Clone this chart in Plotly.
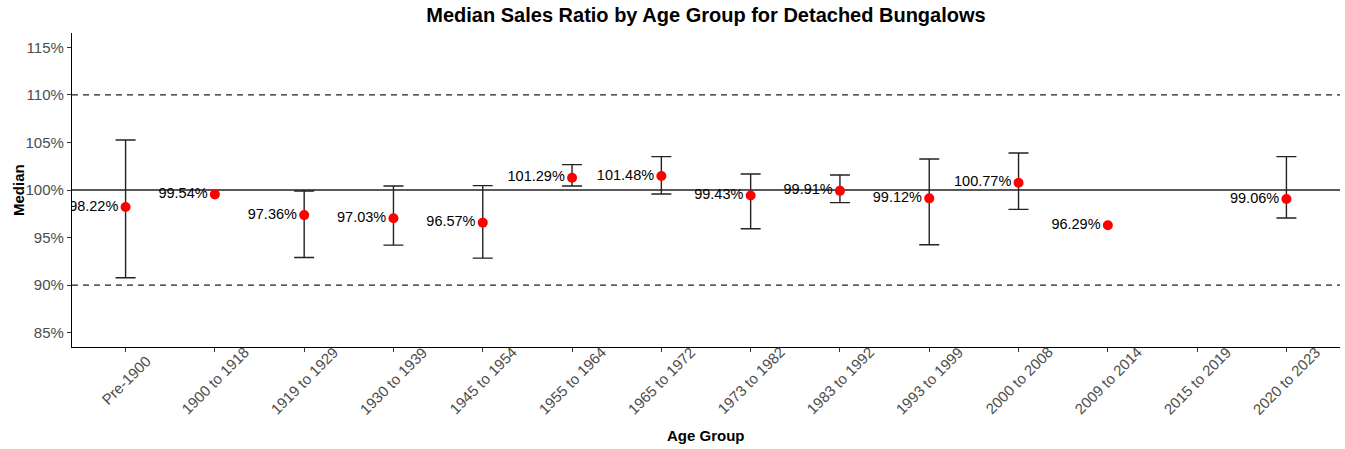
import plotly.graph_objects as go

# Age bands (x categories)
age_groups = [
    "Pre-1900", "1900 to 1918", "1919 to 1929", "1930 to 1939", "1945 to 1954",
    "1955 to 1964", "1965 to 1972", "1973 to 1982", "1983 to 1992", "1993 to 1999",
    "2000 to 2008", "2009 to 2014", "2015 to 2019", "2020 to 2023",
]
# Median sales ratio (%) per age band; None = no sales in band
median_ratio = [98.22, 99.54, 97.36, 97.03, 96.57, 101.29, 101.48, 99.43,
                99.91, 99.12, 100.77, 96.29, None, 99.06]
# Confidence interval bounds (%); None = not available
ci_upper = [105.26, None, 99.90, 100.42, 100.46, 102.67, 103.51, 101.68,
            101.58, 103.26, 103.89, None, None, 103.51]
ci_lower = [90.77, None, 92.91, 94.21, 92.84, 100.42, 99.58, 95.93,
            98.67, 94.25, 97.96, None, None, 97.05]
# Y axis ticks (%)
y_ticks = [85, 90, 95, 100, 105, 110, 115]
# Reference lines (%)
target_line = 100
tolerance_lines = [90, 110]

FONT = "Liberation Sans, Arial, sans-serif"
W, H = 1345, 449
PLOT_LEFT, PLOT_RIGHT = 72, 1340
PLOT_TOP, PLOT_BOTTOM = 33, 347

def paper_y(px):
    """Convert a pixel row to a paper coordinate of the plotting area."""
    return (PLOT_BOTTOM - px) / (PLOT_BOTTOM - PLOT_TOP)

def paper_x(px):
    """Convert a pixel column to a paper coordinate of the plotting area."""
    return (px - PLOT_LEFT) / (PLOT_RIGHT - PLOT_LEFT)

# only bands with both a median and an interval get an error bar
eb_x, eb_y, eb_plus, eb_minus = [], [], [], []
for g, m, u, l in zip(age_groups, median_ratio, ci_upper, ci_lower):
    if m is not None and u is not None and l is not None:
        eb_x.append(g)
        eb_y.append(m)
        eb_plus.append(u - m)
        eb_minus.append(m - l)

pt_x = [g for g, m in zip(age_groups, median_ratio) if m is not None]
pt_y = [m for m in median_ratio if m is not None]
pt_text = [f"{m:.2f}%" for m in pt_y]

fig = go.Figure()

shapes = []
for y in tolerance_lines:
    shapes.append(dict(type="line", xref="paper", x0=0, x1=1, yref="y", y0=y, y1=y,
                       line=dict(color="#222222", width=1.2, dash="6px,5px"), layer="below"))
shapes.append(dict(type="line", xref="paper", x0=0, x1=1, yref="y", y0=target_line,
                   y1=target_line, line=dict(color="#222222", width=1.3), layer="below"))

fig.add_trace(go.Scatter(
    x=eb_x, y=eb_y,
    mode="markers",
    marker=dict(size=1, color="rgba(0,0,0,0)"),
    error_y=dict(type="data", symmetric=False, array=eb_plus, arrayminus=eb_minus,
                 color="#222222", thickness=1.4, width=10),
    hoverinfo="skip",
    showlegend=False,
))

fig.add_trace(go.Scatter(
    x=pt_x, y=pt_y,
    mode="markers+text",
    marker=dict(size=10, color="#ff0000"),
    text=pt_text,
    textposition="middle left",
    textfont=dict(family=FONT, size=14.5, color="#000000"),
    showlegend=False,
))

# rotated category labels, centred under each tick
annotations = []
for g in age_groups:
    annotations.append(dict(
        x=g, xref="x", y=paper_y(380), yref="paper",
        text=g, textangle=-45, showarrow=False,
        xanchor="center", yanchor="middle",
        font=dict(family=FONT, size=15, color="#4d4d4d"),
    ))
annotations.append(dict(
    x=0.5, xref="paper", y=paper_y(435), yref="paper",
    text="<b>Age Group</b>", showarrow=False, xanchor="center", yanchor="middle",
    font=dict(family=FONT, size=15, color="#000000"),
))
annotations.append(dict(
    x=paper_x(18), xref="paper", y=0.5, yref="paper",
    text="<b>Median</b>", textangle=-90, showarrow=False,
    xanchor="center", yanchor="middle",
    font=dict(family=FONT, size=15, color="#000000"),
))

fig.update_layout(
    width=W, height=H,
    margin=dict(l=PLOT_LEFT, r=W - PLOT_RIGHT, t=PLOT_TOP, b=H - PLOT_BOTTOM),
    paper_bgcolor="white",
    plot_bgcolor="white",
    shapes=shapes,
    annotations=annotations,
    title=dict(text="<b>Median Sales Ratio by Age Group for Detached Bungalows</b>",
               x=0.5, xref="paper", xanchor="center", y=1 - 15 / H, yanchor="middle",
               font=dict(family=FONT, size=20, color="#000000")),
    font=dict(family=FONT),
)

fig.update_xaxes(
    type="category",
    categoryorder="array", categoryarray=age_groups,
    range=[-0.6, len(age_groups) - 1 + 0.6],
    showline=True, linecolor="#000000", linewidth=1.3,
    ticks="outside", ticklen=4, tickcolor="#333333",
    showticklabels=False,
    showgrid=False, zeroline=False,
)
fig.update_yaxes(
    range=[83.5, 116.5],
    tickmode="array",
    tickvals=y_ticks,
    ticktext=[f"{v}%" for v in y_ticks],
    showline=True, linecolor="#000000", linewidth=1.3,
    ticks="outside", ticklen=4, tickcolor="#333333",
    tickfont=dict(family=FONT, size=15, color="#4d4d4d"),
    showgrid=False, zeroline=False,
)

fig.write_html("out.html")
